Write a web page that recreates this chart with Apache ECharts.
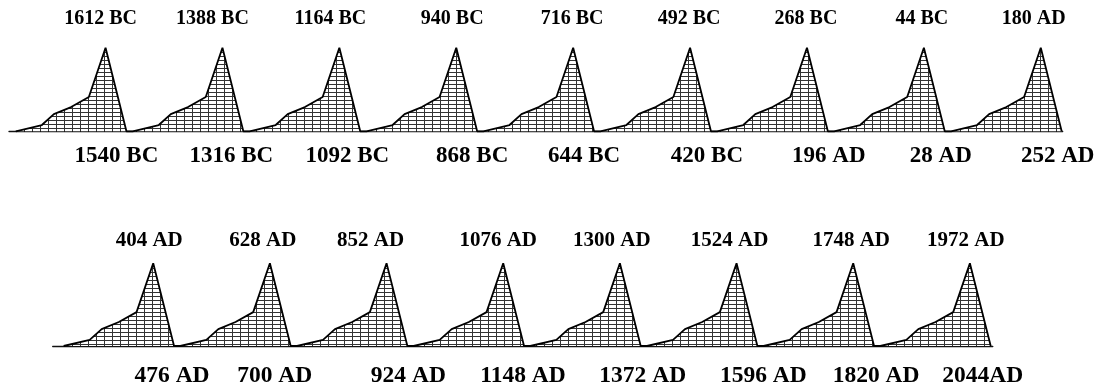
<!DOCTYPE html>
<html>
<head>
<meta charset="utf-8">
<script src="https://cdn.jsdelivr.net/npm/echarts@6/dist/echarts.min.js"></script>
<style>
html,body{margin:0;padding:0;background:#fff;}
#chart{width:1099px;height:389px;}
</style>
</head>
<body>
<div id="chart"></div>
<script>
// ---- data ----
// peak years (BC negative), top row and bottom row
const topPeakYears = [-1612, -1388, -1164, -940, -716, -492, -268, -44, 180];
const topPeakLabels = ['1612 BC', '1388 BC', '1164 BC', '940 BC', '716 BC', '492 BC', '268 BC', '44 BC', '180 AD'];
const topTroughLabels = ['1540 BC', '1316 BC', '1092 BC', '868 BC', '644 BC', '420 BC', '196 AD', '28 AD', '252 AD'];
const bottomPeakYears = [404, 628, 852, 1076, 1300, 1524, 1748, 1972];
const bottomPeakLabels = ['404 AD', '628 AD', '852 AD', '1076 AD', '1300 AD', '1524 AD', '1748 AD', '1972 AD'];
const bottomTroughLabels = ['476 AD', '700 AD', '924 AD', '1148 AD', '1372 AD', '1596 AD', '1820 AD', '2044AD'];
// one cycle's outline: years relative to the peak, height as % of the peak
const cycleOffsetYears = [-172, -122, -99, -66, -32, 0, 40];
const cycleHeights = [0, 7.5, 20.5, 29, 41, 100, 0];

// ---- layout (label nudges in px) ----
const topPeakLabelDx = [-5, -10, -9, -4, -1, -1, -1, -2, -7];
const topTroughLabelDx = [-10, -12, -13, -5, -10, -4, 1, -4, -4];
const bottomPeakLabelDx = [-4, -7, -16, -5, -8, -7, -2, -4];
const bottomTroughLabelDx = [-2, -16, 1, -1, 2, 6, 2, -8];

function buildOutline(peaks) {
  const out = [];
  peaks.forEach(p => {
    cycleOffsetYears.forEach((o, i) => out.push([p + o, cycleHeights[i]]));
  });
  return out;
}

// cross-hatch pattern
const pc = document.createElement('canvas');
pc.width = 8; pc.height = 4;
const pctx = pc.getContext('2d');
pctx.fillStyle = '#ffffff';
pctx.fillRect(0, 0, 8, 4);
pctx.fillStyle = '#333333';
pctx.fillRect(0, 0, 1, 4);
pctx.fillRect(0, 0, 8, 1);

function labelSeries(axisIdx, anchors, texts, dxs, yVal, size) {
  return {
    type: 'scatter',
    xAxisIndex: axisIdx, yAxisIndex: axisIdx,
    symbolSize: 0,
    clip: false,
    silent: true,
    itemStyle: { opacity: 1 },
    data: anchors.map((a, i) => ({
      value: [a, yVal],
      label: {
        show: true, position: 'inside', formatter: texts[i],
        offset: [dxs[i], 0],
        fontFamily: 'Liberation Serif',
        fontWeight: 'bold',
        fontSize: size,
        color: '#000',
        opacity: 1
      }
    }))
  };
}

function outlineSeries(axisIdx, peaks) {
  return {
    type: 'line',
    xAxisIndex: axisIdx, yAxisIndex: axisIdx,
    data: buildOutline(peaks),
    symbol: 'none',
    clip: false,
    lineStyle: { color: '#000', width: 1.8 },
    areaStyle: { color: { image: pc, repeat: 'repeat' }, opacity: 1 },
    z: 3
  };
}

const troughOffset = cycleOffsetYears[cycleOffsetYears.length - 1];

const chart = echarts.init(document.getElementById('chart'), null, { renderer: 'canvas' });
chart.setOption({
  animation: false,
  backgroundColor: '#fff',
  grid: [
    { left: 9, top: 47.7, width: 1053.7, height: 83.6 },
    { left: 52.7, top: 263.3, width: 940.1, height: 82.7 }
  ],
  xAxis: [0, 1].map(i => ({
    type: 'value', gridIndex: i,
    min: i === 0 ? -1797 : 211,
    max: i === 0 ? 222 : 2016,
    axisLine: { show: true, onZero: true, lineStyle: { color: '#111', width: 1.3 } },
    axisTick: { show: false }, axisLabel: { show: false }, splitLine: { show: false }
  })),
  yAxis: [0, 1].map(i => ({
    type: 'value', gridIndex: i, min: 0, max: 100, show: false
  })),
  series: [
    outlineSeries(0, topPeakYears),
    outlineSeries(1, bottomPeakYears),
    labelSeries(0, topPeakYears, topPeakLabels, topPeakLabelDx, 134, 20),
    labelSeries(0, topPeakYears.map(p => p + troughOffset), topTroughLabels, topTroughLabelDx, -30, 23),
    labelSeries(1, bottomPeakYears, bottomPeakLabels, bottomPeakLabelDx, 128, 21),
    labelSeries(1, bottomPeakYears.map(p => p + troughOffset), bottomTroughLabels, bottomTroughLabelDx, -36, 23.5)
  ]
});
</script>
</body>
</html>
